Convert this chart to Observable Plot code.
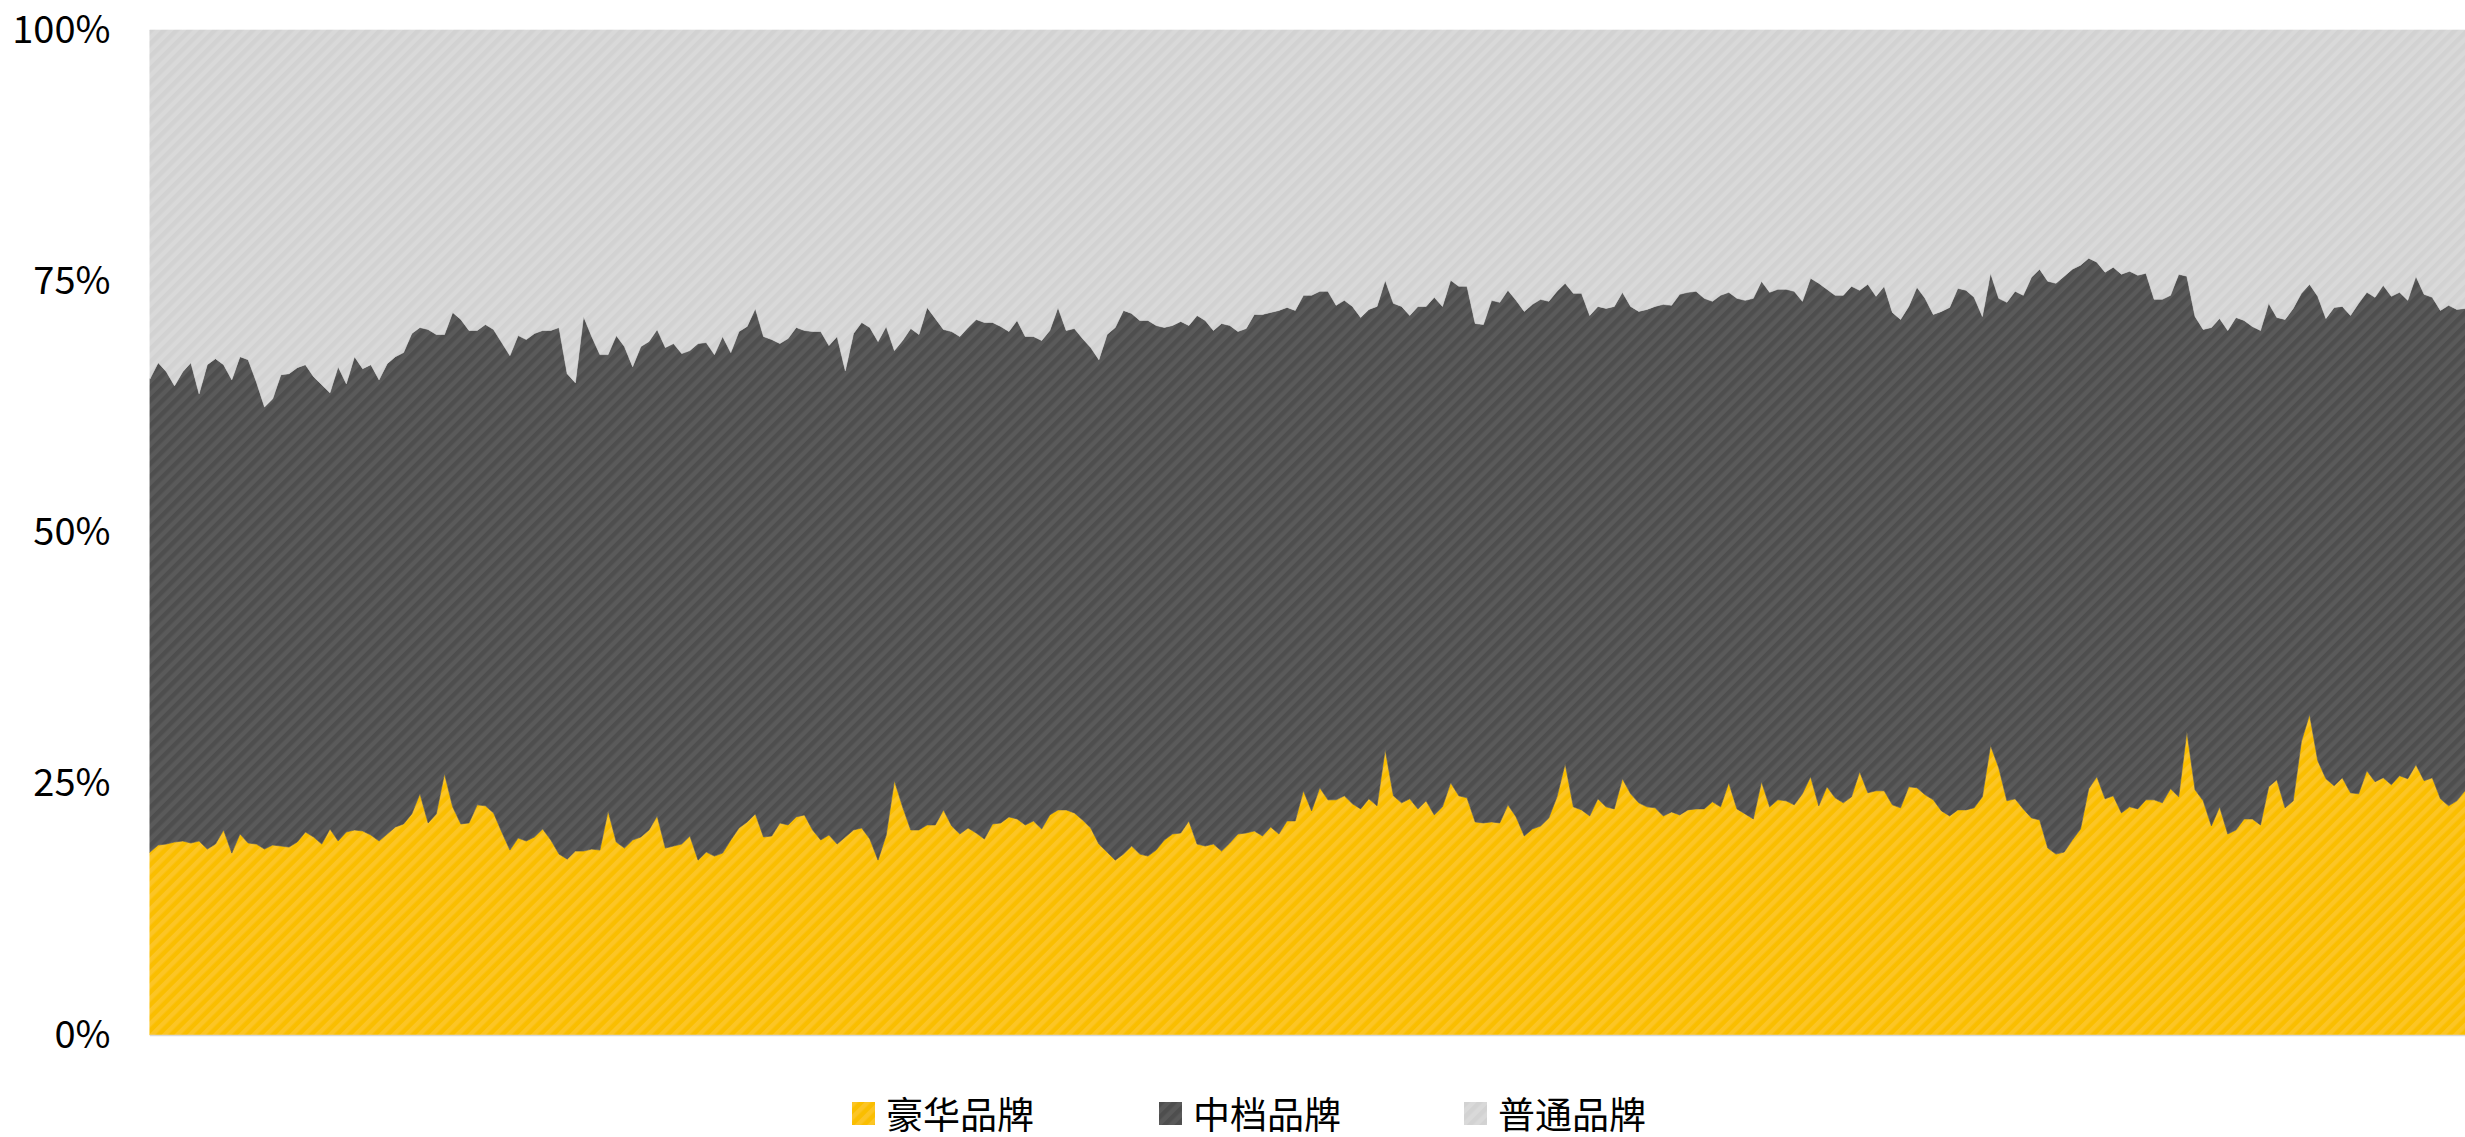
<!DOCTYPE html>
<html><head><meta charset="utf-8">
<script src="https://cdn.jsdelivr.net/npm/d3@7"></script>
<script src="https://cdn.jsdelivr.net/npm/@observablehq/plot@0.6"></script>
<style>
html,body{margin:0;padding:0;background:#fff;}
body{width:2465px;height:1137px;overflow:hidden;position:relative;font-family:"Noto Sans CJK SC","Microsoft YaHei",sans-serif;}
#chart{position:absolute;left:0;top:0;}
.legend-item{position:absolute;top:1093px;height:40px;display:flex;align-items:center;font-size:37px;color:#000;white-space:nowrap;}
.legend-item svg{margin-right:11px;}
</style></head><body>
<svg width="0" height="0" style="position:absolute"><defs>
  <pattern id="pLux" patternUnits="userSpaceOnUse" width="9" height="9" patternTransform="rotate(45)">
    <rect width="9" height="9" fill="#FABE00"/><rect width="4.5" height="9" fill="#FCC525"/>
  </pattern>
  <pattern id="pMid" patternUnits="userSpaceOnUse" width="9" height="9" patternTransform="rotate(45)">
    <rect width="9" height="9" fill="#5A5A5A"/><rect width="4.5" height="9" fill="#4E4E4E"/>
  </pattern>
  <pattern id="pOrd" patternUnits="userSpaceOnUse" width="9" height="9" patternTransform="rotate(45)">
    <rect width="9" height="9" fill="#D9D9D9"/><rect width="4.5" height="9" fill="#D2D2D2"/>
  </pattern>
</defs></svg>
<div id="chart"></div>
<div id="legend"></div>
<script>
const series = ["豪华品牌", "中档品牌", "普通品牌"];
const seriesFills = ["url(#pLux)", "url(#pMid)", "url(#pOrd)"];

// 豪华品牌 share (%), left to right
const luxury = [
18.2,18.9,19.0,19.2,19.3,19.1,19.3,18.5,19.0,20.4,18.1,20.0,19.1,19.0,18.5,18.9,18.8,18.7,19.2,20.2,
19.7,19.0,20.5,19.3,20.2,20.4,20.3,19.9,19.3,20.0,20.7,21.0,22.0,24.0,21.1,22.0,26.0,22.7,21.0,21.1,
22.9,22.8,22.1,20.2,18.4,19.6,19.3,19.7,20.5,19.4,18.0,17.5,18.3,18.3,18.5,18.4,22.3,19.2,18.6,19.4,
19.7,20.4,21.8,18.6,18.8,19.0,19.8,17.4,18.2,17.8,18.1,19.4,20.6,21.2,22.0,19.7,19.8,21.1,20.9,21.7,
21.9,20.4,19.4,19.9,19.0,19.7,20.4,20.6,19.5,17.4,19.9,25.3,
22.7,20.4,20.4,20.9,20.9,22.4,20.8,20.0,20.6,20.1,19.5,21.0,21.1,21.7,21.5,20.9,21.3,20.5,21.9,22.4,
22.4,22.1,21.4,20.6,19.0,18.2,17.4,18.0,18.8,18.0,17.8,18.4,19.4,20.0,20.1,21.3,19.0,18.8,19.0,18.3,
19.1,20.0,20.1,20.3,19.8,20.7,20.0,21.3,21.3,24.3,22.3,24.6,23.4,23.4,23.8,23.0,22.5,23.5,22.8,28.4,
23.8,23.1,23.5,22.5,23.3,21.9,22.7,25.1,23.8,23.6,21.2,21.1,21.2,21.1,22.9,21.7,19.8,20.5,20.8,21.6,
23.7,27.0,22.7,22.4,21.8,23.5,22.7,22.5,25.5,24.0,23.1,22.7,22.6,21.8,22.2,21.9,22.4,
22.5,22.5,23.2,22.7,25.1,22.5,22.0,21.5,25.2,22.7,23.4,23.3,22.9,24.0,25.7,22.8,24.7,23.6,23.1,23.7,
26.2,24.1,24.3,24.3,22.9,22.6,24.7,24.6,23.9,23.4,22.3,21.8,22.4,22.4,22.6,23.7,28.8,26.6,23.3,23.5,
22.5,21.6,21.4,18.6,18.0,18.2,19.4,20.5,24.5,25.7,23.5,23.8,22.1,22.7,22.5,23.4,23.4,23.1,24.5,23.7,
30.2,24.4,23.3,20.8,22.7,20.0,20.4,21.5,21.5,20.9,24.7,25.4,22.6,23.3,29.2,31.9,27.3,25.5,24.8,25.6,
24.1,24.0,26.3,25.2,25.6,24.9,25.8,25.5,26.9,25.3,25.6,23.5,22.8,23.3,24.3
];

const luxuryPlusMid = [
65.3,66.9,66.0,64.6,66.0,66.9,63.8,66.7,67.3,66.7,65.2,67.5,67.2,65.0,62.5,63.3,65.7,65.8,66.4,66.7,
65.5,64.7,63.9,66.5,64.8,67.5,66.3,66.7,65.2,66.8,67.5,67.9,69.8,70.4,70.2,69.7,69.7,71.9,71.2,70.1,
70.1,70.7,70.2,68.9,67.6,69.6,69.2,69.8,70.1,70.1,70.4,65.8,64.9,71.5,69.5,67.7,67.7,69.6,68.5,66.5,
68.5,69.0,70.2,68.4,68.8,67.8,68.1,68.8,68.9,67.7,69.5,67.9,70.0,70.5,72.3,69.5,69.2,68.8,69.3,70.4,
70.1,70.0,70.0,68.6,69.5,66.1,69.8,70.9,70.4,69.0,70.5,68.1,
69.1,70.3,69.7,72.4,71.3,70.2,70.0,69.5,70.4,71.2,70.9,70.9,70.5,70.0,71.1,69.5,69.5,69.1,70.1,72.4,
70.1,70.3,69.3,68.4,67.2,69.7,70.4,72.1,71.8,71.1,71.1,70.6,70.4,70.6,71.0,70.6,71.6,71.1,70.1,70.8,
70.6,70.0,70.3,71.7,71.7,71.9,72.1,72.4,72.1,73.6,73.6,74.0,74.0,72.6,73.1,72.5,71.4,72.2,72.5,75.1,
72.8,72.5,71.6,72.5,72.5,73.4,72.5,75.1,74.5,74.5,70.8,70.7,73.1,72.9,74.1,73.1,72.0,72.7,73.2,73.0,
74.0,74.8,73.8,73.8,71.6,72.5,72.3,72.5,73.9,72.5,72.0,72.2,72.5,72.7,72.6,73.7,73.9,
74.0,73.3,73.0,73.6,73.9,73.3,73.1,73.3,75.0,73.9,74.2,74.2,74.0,73.0,75.3,74.8,74.2,73.6,73.6,74.5,
74.1,74.7,73.5,74.5,71.9,71.2,72.5,74.4,73.3,71.7,72.0,72.4,74.3,74.1,73.4,71.5,75.8,73.3,72.9,74.0,
73.6,75.4,76.2,75.0,74.8,75.5,76.2,76.6,77.3,76.9,75.9,76.4,75.7,76.0,75.6,75.8,73.2,73.2,73.6,75.7,
75.5,71.5,70.2,70.4,71.3,70.1,71.4,71.1,70.5,70.1,72.8,71.4,71.2,72.3,73.8,74.7,73.5,71.3,72.4,72.5,
71.6,72.8,73.9,73.4,74.6,73.5,73.9,73.1,75.5,73.7,73.4,72.1,72.6,72.2,72.3
];

const yTicks = [0, 0.25, 0.5, 0.75, 1];
const yTickLabels = ["0%", "25%", "50%", "75%", "100%"];

const n = Math.min(luxury.length, luxuryPlusMid.length);
const rows = [];
for (let i = 0; i < n; i++) {
  const top = luxuryPlusMid[i];
  rows.push({i, brand: series[0], share: luxury[i]});
  rows.push({i, brand: series[1], share: top - luxury[i]});
  rows.push({i, brand: series[2], share: 100 - top});
}

const chart = Plot.plot({
  width: 2465,
  height: 1060,
  marginLeft: 150,
  marginRight: 0,
  marginTop: 30,
  marginBottom: 25,
  style: {fontFamily: '"Noto Sans CJK SC", sans-serif', background: "transparent"},
  x: {domain: [0, n - 1], axis: null},
  y: {domain: [0, 1], axis: null},
  color: {type: "ordinal", domain: series, range: seriesFills},
  marks: [
    Plot.areaY(rows, {x: "i", y: "share", z: "brand", fill: "brand", stroke: "brand", strokeWidth: 0.6,
      order: series, offset: "normalize"}),
    Plot.ruleY([0], {stroke: "#D9D9D9", strokeWidth: 1.5}),
    Plot.axisY({ticks: yTicks, tickFormat: d => yTickLabels[yTicks.indexOf(d)], tickSize: 0, tickPadding: 40,
      fontSize: 38, fill: "#000", label: null})
  ]
});
document.getElementById("chart").appendChild(chart);

const legendLeft = [852, 1159, 1464];
const legend = document.getElementById("legend");
series.forEach((s, k) => {
  const item = document.createElement("div");
  item.className = "legend-item";
  item.style.left = legendLeft[k] + "px";
  item.innerHTML = `<svg width="23" height="23"><rect width="23" height="23" fill="${seriesFills[k]}"/></svg><span>${s}</span>`;
  legend.appendChild(item);
});
</script>
</body></html>
